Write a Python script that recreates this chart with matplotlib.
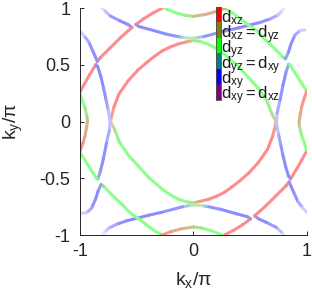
import numpy as np
import matplotlib
matplotlib.use("Agg")
import matplotlib.pyplot as plt
from matplotlib.collections import LineCollection
from matplotlib.colors import ListedColormap

plt.rcParams['font.family'] = ['Liberation Sans', 'DejaVu Sans']
plt.rcParams['mathtext.fontset'] = 'custom'
plt.rcParams['mathtext.rm'] = 'Liberation Sans'
plt.rcParams['mathtext.it'] = 'Liberation Sans:italic'
plt.rcParams['axes.unicode_minus'] = False

# ---------------- data ----------------
orbital_labels = [r'$\mathregular{d_{xz}}$', r'$\mathregular{d_{xz}=d_{yz}}$',
                  r'$\mathregular{d_{yz}}$', r'$\mathregular{d_{yz}=d_{xy}}$',
                  r'$\mathregular{d_{xy}}$', r'$\mathregular{d_{xy}=d_{xz}}$']
orbital_rgb = [(1, 0, 0), (0.5, 0.5, 0), (0, 1, 0), (0, 0.5, 0.5), (0, 0, 1), (0.5, 0, 0.5)]

x_ticks = [-1, 0, 1]
y_ticks = [-1, -0.5, 0, 0.5, 1]

# Fermi-surface strokes (upper half); the lower half is their inversion partner k -> -k.
# orb: orbital character index on the colorbar scale (0=xz ... 5=xy/xz), wt: spectral weight
central_kx = [-0.728, -0.726, -0.700, -0.656, -0.576, -0.488, -0.417, -0.345, -0.276, -0.205,
              -0.135, -0.046, -0.002, 0.060, 0.130, 0.200, 0.272, 0.395, 0.483, 0.572,
              0.651, 0.695, 0.728]
central_ky = [0.001, 0.032, 0.129, 0.244, 0.359, 0.456, 0.517, 0.574, 0.623, 0.658,
              0.685, 0.707, 0.716, 0.707, 0.685, 0.647, 0.597, 0.491, 0.394, 0.297,
              0.182, 0.067, 0.006]
central_orb = [0.7, 0.3, 0, 0, 0, 0, 0, 0, 0, 0, 0, 0.3, 1.2, 2, 2, 2, 2, 2, 2, 2, 2, 1.5, 0.7]
central_wt = [0.8, 0.9, 1, 1, 1, 1, 1, 1, 1, 1, 1, 1, 1, 1, 1, 1, 1, 1, 1, 1, 1, 1, 0.8]

bline_kx = [-0.276, -0.355, -0.435, -0.507, -0.479, -0.382, -0.241, -0.117, -0.082, -0.020,
            0.042, 0.095, 0.280, 0.395, 0.501, 0.589, 0.678, 0.748, 0.784, 0.797]
bline_ky = [1.0, 0.959, 0.910, 0.857, 0.839, 0.813, 0.773, 0.747, 0.742, 0.735,
            0.742, 0.751, 0.800, 0.826, 0.853, 0.875, 0.906, 0.941, 0.976, 1.0]
bline_orb = [0, 0, 0, 5.5, 4, 4, 4, 4, 2.5, 1.2, 2.5, 4, 4, 4, 4, 4, 4, 4, 4, 4]
bline_wt = [1, 1, 1, 1, 1, 1, 1, 0.9, 0.7, 0.7, 0.7, 0.85, 1, 1, 1, 1, 0.9, 0.6, 0.35, 0.15]

s1_kx = [-0.806, -0.779, -0.732, -0.644, -0.576, -0.541, -0.572, -0.642, -0.731, -0.819,
         -0.847, -0.863, -0.887, -0.923, -0.967, -1.0]
s1_ky = [1.0, 0.976, 0.932, 0.888, 0.857, 0.831, 0.804, 0.742, 0.654, 0.566,
         0.531, 0.570, 0.623, 0.704, 0.760, 0.800]
s1_orb = [4, 4, 4, 4, 4, 5, 0, 0, 0, 0, 5, 4, 4, 4, 4, 4]
s1_wt = [0.15, 0.35, 0.8, 1, 1, 1, 1, 1, 1, 1, 1, 1, 1, 0.9, 0.6, 0.25]

pocket_kx = [-1.0, -0.960, -0.916, -0.872, -0.859, -0.843, -0.816, -0.792, -0.770, -0.751,
             -0.735, -0.740, -0.766, -0.792, -0.821, -0.843, -0.857, -0.907, -0.958, -1.0]
pocket_ky = [0.262, 0.334, 0.412, 0.484, 0.504, 0.484, 0.398, 0.297, 0.191, 0.103,
             0.015, -0.074, -0.188, -0.321, -0.444, -0.506, -0.497, -0.418, -0.338, -0.270]
pocket_orb = [0, 0, 0, 0, 5, 4, 4, 4, 4, 4, 4, 4, 4, 4, 4, 3, 2, 2, 2, 2]
pocket_wt = [1, 1, 1, 1, 1, 1, 1, 1, 0.9, 0.7, 0.45, 0.6, 0.9, 1, 1, 1, 1, 1, 1, 1]

edge_kx = [-1.0, -0.982, -0.956, -0.938, -0.934, -0.943, -0.956, -0.974, -1.0]
edge_ky = [0.248, 0.191, 0.120, 0.041, 0.006, -0.056, -0.127, -0.188, -0.263]
edge_orb = [2, 2, 2, 1.3, 0.8, 0.6, 0.4, 0.2, 0]
edge_wt = [1, 1, 1, 1, 1, 1, 1, 1, 1]

gline_kx = [0.272, 0.342, 0.413, 0.483, 0.558, 0.625, 0.678, 0.731, 0.792, 0.815,
            0.841, 0.863, 0.898, 0.943, 0.987]
gline_ky = [1.0, 0.963, 0.910, 0.857, 0.804, 0.734, 0.685, 0.632, 0.570, 0.554,
            0.614, 0.685, 0.764, 0.804, 0.809]
gline_orb = [2, 2, 2, 2, 2, 2, 2, 2, 2, 3, 4, 4, 4, 4, 4]
gline_wt = [1, 1, 1, 1, 1, 1, 1, 1, 1, 1, 1, 1, 0.9, 0.6, 0.2]

top_kx = [-0.254, -0.161, -0.073, -0.002, 0.104, 0.201, 0.276]
top_ky = [1.0, 0.963, 0.938, 0.929, 0.945, 0.972, 1.0]
top_orb = [2, 2, 2, 1, 0.8, 0.4, 0]
top_wt = [1, 1, 1, 1, 1, 1, 1]

strokes = [
    (central_kx, central_ky, central_orb, central_wt),
    (bline_kx, bline_ky, bline_orb, bline_wt),
    (s1_kx, s1_ky, s1_orb, s1_wt),
    (pocket_kx, pocket_ky, pocket_orb, pocket_wt),
    (edge_kx, edge_ky, edge_orb, edge_wt),
    (gline_kx, gline_ky, gline_orb, gline_wt),
    (top_kx, top_ky, top_orb, top_wt),
]

# ---------------- drawing ----------------
LINE_ALPHA = 0.45


def orb_color(o, w):
    o = o % 6
    i = int(np.floor(o))
    t = o - i
    c = (1 - t) * np.array(orbital_rgb[i]) + t * np.array(orbital_rgb[(i + 1) % 6])
    return 1 - LINE_ALPHA * w * (1 - c)


W, H = 312, 296
fig = plt.figure(figsize=(W / 100, H / 100), dpi=100)
ax = fig.add_axes([80 / W, 61 / H, 226.5 / W, 226.7 / H])

for kx, ky, orb, wt in strokes:
    cols = [orb_color(o, w) for o, w in zip(orb, wt)]
    segcols = [(cols[i] + cols[i + 1]) / 2 for i in range(len(cols) - 1)]
    for sgn in (1, -1):
        pts = np.column_stack([sgn * np.asarray(kx), sgn * np.asarray(ky)])
        segs = np.stack([pts[:-1], pts[1:]], axis=1)
        lc = LineCollection(segs, colors=segcols, linewidths=2.2,
                            capstyle='round', joinstyle='round')
        ax.add_collection(lc)

ax.set_xlim(-1, 1)
ax.set_ylim(-1, 1)
ax.set_xticks(x_ticks)
ax.set_xticklabels([f'{t:g}' for t in x_ticks])
ax.set_yticks(y_ticks)
ax.set_yticklabels([f'{t:g}' for t in y_ticks])
for s in ('top', 'right'):
    ax.spines[s].set_visible(False)
for s in ('left', 'bottom'):
    ax.spines[s].set_color('0.15')
    ax.spines[s].set_linewidth(0.7)
ax.tick_params(direction='in', length=3, width=0.7, colors='0.15', labelsize=13)
ax.tick_params(axis='y', pad=7)
ax.tick_params(axis='x', pad=6)

ax.set_xlabel(r'$\mathregular{k_x/\pi}$', fontsize=14, color='0.15')
ax.xaxis.set_label_coords(0.5, -0.155)
ax.set_ylabel(r'$\mathregular{k_y/\pi}$', fontsize=14, color='0.15')
ax.yaxis.set_label_coords(-0.245, 0.5)

# colorbar
cax = fig.add_axes([215.7 / W, 1 - 100 / H, 5 / W, 92.7 / H])
cax.imshow(np.arange(6).reshape(6, 1), cmap=ListedColormap(orbital_rgb),
           aspect='auto', extent=[0, 1, 6, 0], interpolation='nearest')
cax.set_xticks([])
cax.set_yticks(np.arange(6) + 0.5)
cax.set_yticklabels(orbital_labels)
cax.yaxis.tick_right()
cax.tick_params(axis='y', length=0, pad=0.5, labelsize=12, colors='0.1')
for s in cax.spines.values():
    s.set_color('0.3')
    s.set_linewidth(0.6)

fig.savefig('out.png', dpi=100)
